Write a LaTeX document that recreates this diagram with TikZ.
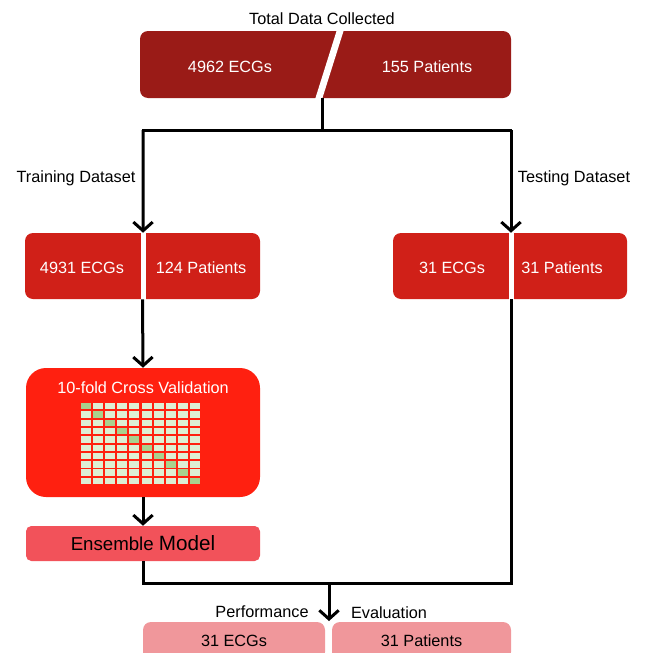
\documentclass[tikz,border=0pt]{standalone}
\usepackage{fontspec}
\setmainfont{Liberation Sans}
\usetikzlibrary{arrows.meta}
\definecolor{totalred}{HTML}{9A1B17}
\definecolor{splitred}{HTML}{D02018}
\definecolor{cvred}{HTML}{FF2010}
\definecolor{ensred}{HTML}{F2525A}
\definecolor{evalpink}{HTML}{F0979B}
\definecolor{cellgreen}{HTML}{DDEFD5}
\definecolor{foldgreen}{HTML}{A9D18E}
\begin{document}
\begin{tikzpicture}[x=0.75pt, y=-0.75pt, font=\fontsize{12.2}{14}\selectfont,
  box/.style={rounded corners=6pt, inner sep=0pt},
  flow/.style={line width=2.25pt},
  arr/.style={flow, -{Straight Barb[length=6.5pt,width=14.5pt]}}]
\useasboundingbox (0,0) rectangle (647,653);
\clip (0,0) rectangle (647,653);
% boxes
\node[box, fill=totalred, minimum width=278.25pt, minimum height=50.25pt] (total) at (325.5,64.5) {};
\node[box, fill=splitred, minimum width=176.25pt, minimum height=49.5pt] (train) at (142.5,266) {};
\node[box, fill=splitred, minimum width=175.5pt, minimum height=49.5pt] (test) at (510,266) {};
\node[box, rounded corners=15pt, fill=cvred, minimum width=175.5pt, minimum height=96.75pt] (cv) at (143,432.5) {};
\node[box, rounded corners=4pt, fill=ensred, minimum width=175.5pt, minimum height=26.25pt] (ens) at (143,543.5) {\fontsize{14}{16}\selectfont Ensemble {\fontsize{15.5}{17}\selectfont Model}};
\node[box, fill=evalpink, minimum width=136.5pt, minimum height=28.5pt] (evalecg) at (234,641) {31 ECGs};
\node[box, fill=evalpink, minimum width=134.25pt, minimum height=28.5pt] (evalpat) at (421.5,641) {31 Patients};
% white gaps
\draw[white, line width=5pt] (341,28) -- (318,101);
\draw[white, line width=3.75pt] (143,230) -- (143,302);
\draw[white, line width=3.75pt] (511,230) -- (511,302);
% box texts
\node[text=white] (allecg) at (230,67) {4962 ECGs};
\node[text=white] (allpat) at (427,67) {155 Patients};
\node[text=white] (trainecg) at (82,268) {4931 ECGs};
\node[text=white] (trainpat) at (201,268) {124 Patients};
\node[text=white] (testecg) at (452,268) {31 ECGs};
\node[text=white] (testpat) at (562,268) {31 Patients};
\node[text=white] (cvtitle) at (143,388) {10-fold Cross Validation};
% folds
\foreach \i in {0,...,9}
  \foreach \j in {0,...,9}
    \fill[cellgreen] (81+12.1*\i,403+8.3*\j) rectangle ++(10,6.4);
\foreach \i in {0,...,9}
  \fill[foldgreen] (81+12.1*\i,403+8.3*\i) rectangle ++(10,6.4);
% labels
\node (totallabel) at (322,19) {Total Data Collected};
\node (trainlabel) at (76,178) {Training Dataset};
\node (testlabel) at (574,178) {Testing Dataset};
\node (perflabel) at (262,612) {Performance};
\node (evallabel) at (389,613) {Evaluation};
% connectors
\coordinate (topout) at (322,98);
\coordinate (fork) at (322,130);
\coordinate (trainfork) at (143,130);
\coordinate (testfork) at (511,130);
\coordinate (merge) at (329,583);
\coordinate (evalin) at (329,621);
\draw[flow] (topout) -- (fork);
\draw[flow] ([xshift=-0.75pt]trainfork) -- ([xshift=0.75pt]testfork);
\draw[arr] (trainfork) -- ([xshift=0.4pt]train.north);
\draw[arr] (testfork) -- ([xshift=0.75pt]test.north);
\draw[arr] (train.south) -- (cv.north);
\draw[arr] (cv.south) -- (ens.north);
\draw[flow] (ens.south) |- (merge) -| ([xshift=0.75pt]test.south);
\draw[arr] (merge) -- (evalin);
\end{tikzpicture}
\end{document}
